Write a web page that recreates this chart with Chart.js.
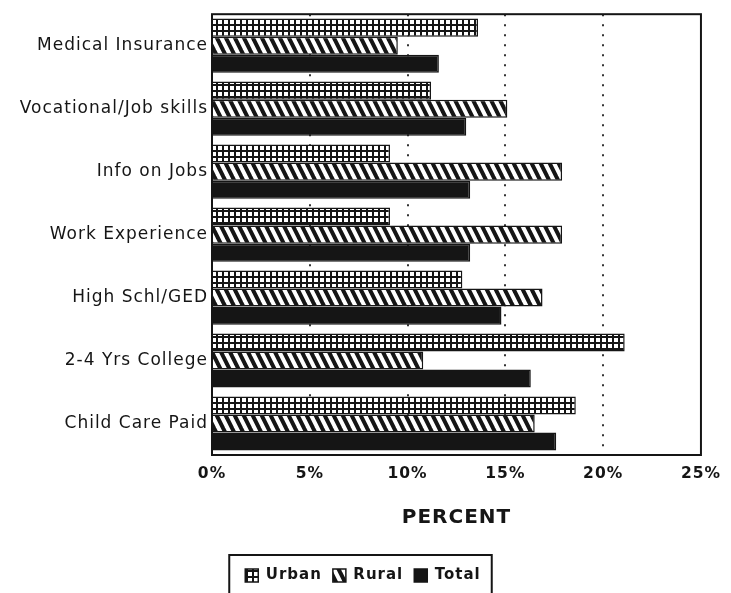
<!DOCTYPE html>
<html>
<head>
<meta charset="utf-8">
<script src="https://cdn.jsdelivr.net/npm/chart.js@4.4.1/dist/chart.umd.min.js"></script>
<style>
  html, body { margin: 0; padding: 0; background: #fff; }
  #wrap { width: 731px; height: 593px; }
</style>
</head>
<body>
<div id="wrap"><canvas id="barChart"></canvas></div>
<script>
// chart data
const categories = ['Medical Insurance', 'Vocational/Job skills', 'Info on Jobs', 'Work Experience',
  'High Schl/GED', '2-4 Yrs College', 'Child Care Paid'];
const urban = [13.6, 11.2, 9.1, 9.1, 12.8, 21.1, 18.6];
const rural = [9.5, 15.1, 17.9, 17.9, 16.9, 10.8, 16.5];
const total = [11.6, 13.0, 13.2, 13.2, 14.8, 16.3, 17.6];
const xTicks = [0, 5, 10, 15, 20, 25];

const ink = '#151515';
const font = 'DejaVu Sans';

// fill patterns
function gridPattern() {
  const c = document.createElement('canvas');
  c.width = 6; c.height = 6;
  const g = c.getContext('2d');
  g.fillStyle = ink;
  g.fillRect(0, 0, 6, 6);
  g.fillStyle = '#fff';
  g.fillRect(2, 2, 4, 4);
  return g.createPattern(c, 'repeat');
}

function stripePattern() {
  const c = document.createElement('canvas');
  c.width = 9; c.height = 18;
  const g = c.getContext('2d');
  g.fillStyle = '#fff';
  g.fillRect(0, 0, 9, 18);
  g.strokeStyle = ink;
  g.lineWidth = 4;
  [-9, 0, 9].forEach(o => {
    g.beginPath();
    g.moveTo(o - 2, -4);
    g.lineTo(o + 11, 22);
    g.stroke();
  });
  return g.createPattern(c, 'repeat');
}

// wide letter spacing like the old printout
const spacing = {
  id: 'spacing',
  beforeLayout(chart) { chart.ctx.letterSpacing = '1px'; },
  beforeDraw(chart) { chart.ctx.letterSpacing = '1px'; }
};

// legend sits a bit right of the canvas middle
const legendShift = {
  id: 'legendShift',
  afterLayout(chart) {
    chart.legend.left += 11;
    chart.legend.right += 11;
  }
};

// box round the plot and round the legend
const frames = {
  id: 'frames',
  afterDatasetsDraw(chart) {
    const a = chart.chartArea;
    const ctx = chart.ctx;
    ctx.save();
    ctx.strokeStyle = ink;
    ctx.lineWidth = 2;
    ctx.strokeRect(a.left, a.top, a.right - a.left, a.bottom - a.top);
    ctx.restore();
  },
  afterDraw(chart) {
    const hb = chart.legend.legendHitBoxes;
    if (!hb || !hb.length) return;
    const last = hb[hb.length - 1];
    const left = hb[0].left - 16;
    const right = last.left + last.width + 11;
    const top = hb[0].top - 13;
    const ctx = chart.ctx;
    ctx.save();
    ctx.strokeStyle = ink;
    ctx.lineWidth = 2;
    ctx.strokeRect(left, top, right - left, chart.height - top + 10);
    ctx.restore();
  }
};

const ctx = document.getElementById('barChart');
new Chart(ctx, {
  type: 'bar',
  data: {
    labels: categories,
    datasets: [
      { label: 'Urban', data: urban, backgroundColor: gridPattern(), borderColor: ink, borderWidth: 1.5 },
      { label: 'Rural', data: rural, backgroundColor: stripePattern(), borderColor: ink, borderWidth: 1.5 },
      { label: 'Total', data: total, backgroundColor: ink, borderColor: ink, borderWidth: 1.5 }
    ]
  },
  options: {
    indexAxis: 'y',
    responsive: true,
    maintainAspectRatio: false,
    animation: false,
    layout: { padding: { top: 13, left: 0, right: 27, bottom: 0 } },
    datasets: {
      bar: { categoryPercentage: 0.86, barPercentage: 1.0 }
    },
    scales: {
      x: {
        min: 0,
        max: 25,
        afterBuildTicks: s => { s.ticks = xTicks.map(v => ({ value: v })); },
        afterFit: s => {
          const lh = s.chart.legend ? s.chart.legend.height : 39;
          s.height = s.chart.height - 455 - lh;
        },
        grid: {
          drawTicks: false,
          lineWidth: 2,
          color: c => (c.tick && (c.tick.value === 0 || c.tick.value === 25)) ? 'rgba(0,0,0,0)' : '#333'
        },
        border: { display: false, dash: [2, 8] },
        ticks: {
          padding: 10,
          color: ink,
          font: { family: font, size: 15.5, weight: 'bold' },
          callback: v => v + '%'
        },
        title: {
          display: true,
          text: 'PERCENT',
          color: ink,
          font: { family: font, size: 20, weight: 'bold' },
          padding: { top: 4, bottom: 27 }
        }
      },
      y: {
        afterFit: s => { s.width = 212; },
        grid: { display: false, drawTicks: false },
        border: { display: false },
        ticks: {
          padding: 4,
          color: ink,
          font: { family: font, size: 17 }
        }
      }
    },
    plugins: {
      legend: {
        position: 'bottom',
        labels: {
          boxWidth: 13,
          boxHeight: 13,
          padding: 11,
          color: ink,
          font: { family: font, size: 15, weight: 'bold' }
        }
      },
      tooltip: { enabled: false }
    }
  },
  plugins: [spacing, legendShift, frames]
});
</script>
</body>
</html>
